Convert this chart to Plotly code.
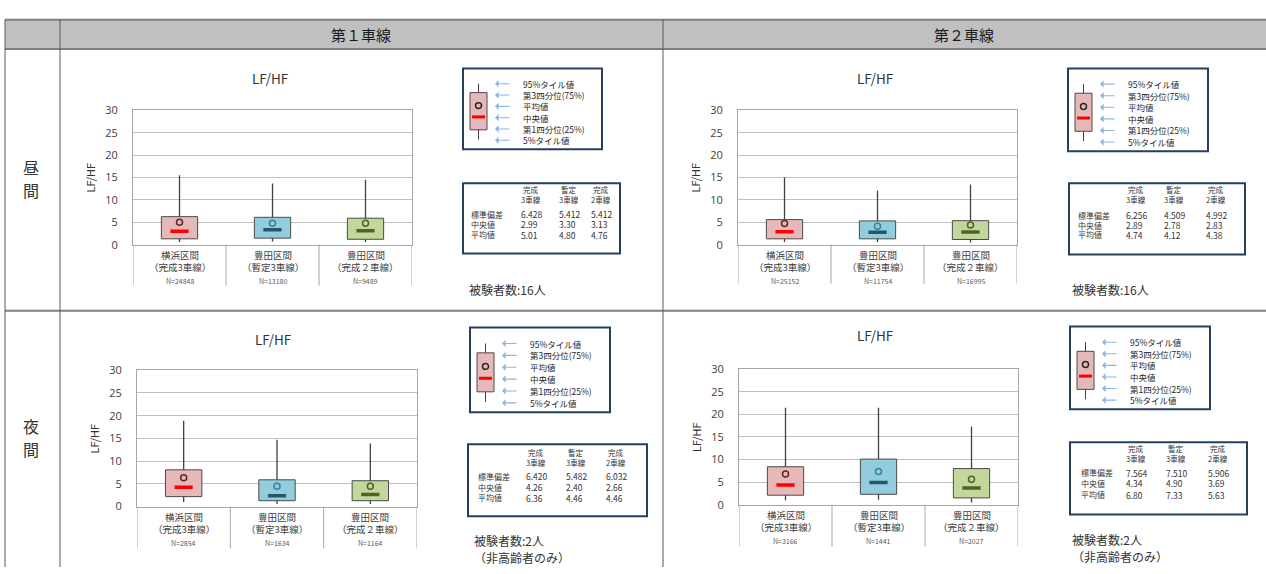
import plotly.graph_objects as go

W, H = 1266, 574

# ---- data ----------------------------------------------------------------
lane_titles = ["第１車線", "第２車線"]
period_titles = ["昼間", "夜間"]
categories = ["横浜区間", "豊田区間", "豊田区間"]
sections = ["（完成3車線）", "（暫定3車線）", "（完成２車線）"]
stat_cols = ["完成<br>3車線", "暫定<br>3車線", "完成<br>2車線"]
stat_rows = ["標準偏差", "中央値", "平均値"]
legend_labels = ["95%タイル値", "第3四分位(75%)", "平均値", "中央値", "第1四分位(25%)", "5%タイル値"]
chart_title = "LF/HF"
y_title = "LF/HF"
y_ticks = [0, 5, 10, 15, 20, 25, 30]

# day, lane 1
n_day_l1 = [24848, 13180, 9489]
p05_day_l1 = [0.6, 0.7, 0.6]
q1_day_l1 = [1.3, 1.45, 1.2]
median_day_l1 = [2.99, 3.30, 3.13]
mean_day_l1 = [5.01, 4.80, 4.76]
q3_day_l1 = [6.25, 6.1, 5.9]
p95_day_l1 = [15.5, 13.65, 14.5]
sd_day_l1 = [6.428, 5.412, 5.412]
subjects_day_l1 = ["被験者数:16人"]

# day, lane 2
n_day_l2 = [25152, 11754, 16995]
p05_day_l2 = [0.6, 0.6, 0.5]
q1_day_l2 = [1.3, 1.3, 1.15]
median_day_l2 = [2.89, 2.78, 2.83]
mean_day_l2 = [4.74, 4.12, 4.38]
q3_day_l2 = [5.6, 5.3, 5.35]
p95_day_l2 = [15.0, 12.1, 13.4]
sd_day_l2 = [6.256, 4.509, 4.992]
subjects_day_l2 = ["被験者数:16人"]

# night, lane 1
n_night_l1 = [2854, 1634, 1164]
p05_night_l1 = [1.0, 0.6, 0.6]
q1_night_l1 = [2.2, 1.3, 1.3]
median_night_l1 = [4.26, 2.40, 2.66]
mean_night_l1 = [6.36, 4.46, 4.46]
q3_night_l1 = [8.1, 5.9, 5.7]
p95_night_l1 = [18.9, 14.7, 13.9]
sd_night_l1 = [6.420, 5.482, 6.032]
subjects_night_l1 = ["被験者数:2人", "（非高齢者のみ）"]

# night, lane 2
n_night_l2 = [3166, 1441, 2027]
p05_night_l2 = [1.0, 1.1, 0.5]
q1_night_l2 = [2.1, 2.3, 1.5]
median_night_l2 = [4.34, 4.90, 3.69]
mean_night_l2 = [6.80, 7.33, 5.63]
q3_night_l2 = [8.4, 10.1, 8.0]
p95_night_l2 = [21.5, 21.5, 17.3]
sd_night_l2 = [7.564, 7.510, 5.906]
subjects_night_l2 = ["被験者数:2人", "（非高齢者のみ）"]

# ---- styling ----------------------------------------------------------------
FONT = "Noto Sans CJK JP"
box_fills = ["#e6b9b8", "#93cddd", "#c3d69b"]
median_colors = ["#ff0000", "#215968", "#4f6228"]
mean_colors = ["#632523", "#31859c", "#4f6228"]
BOX_LINE = "#4a4a4a"
GRID = "#c0c0c0"
FRAME = "#a6a6a6"
NAVY = "#243f60"
ARROW = "#8eb4e3"


def X(px):
    return px / W


def Y(py):
    return 1 - py / H


# pixel placement of each panel's pieces
panels = [
    dict(n=n_day_l1, p05=p05_day_l1, q1=q1_day_l1, med=median_day_l1, mean=mean_day_l1,
         q3=q3_day_l1, p95=p95_day_l1, sd=sd_day_l1, subjects=subjects_day_l1,
         plot=(133, 412, 105, 243), catbottom=285, title=(270, 72),
         legend=(463, 602, 62, 145), stats=(463, 620, 180, 252),
         cols=[520, 558, 590], rowx=470, heady=192, rowsy=[212, 222, 233], count=(468, 289)),
    dict(n=n_day_l2, p05=p05_day_l2, q1=q1_day_l2, med=median_day_l2, mean=mean_day_l2,
         q3=q3_day_l2, p95=p95_day_l2, sd=sd_day_l2, subjects=subjects_day_l2,
         plot=(738, 1017, 105, 243), catbottom=283, title=(875, 72),
         legend=(1068, 1208, 62, 147), stats=(1069, 1245, 180, 253),
         cols=[1125, 1163, 1205], rowx=1077, heady=192, rowsy=[213, 223, 233], count=(1071, 289)),
    dict(n=n_night_l1, p05=p05_night_l1, q1=q1_night_l1, med=median_night_l1, mean=mean_night_l1,
         q3=q3_night_l1, p95=p95_night_l1, sd=sd_night_l1, subjects=subjects_night_l1,
         plot=(137, 417, 372, 512), catbottom=555, title=(273, 340),
         legend=(470, 610, 328, 415), stats=(468, 647, 448, 522),
         cols=[525, 565, 605], rowx=477, heady=462, rowsy=[481, 492, 503], count=(473, 547)),
    dict(n=n_night_l2, p05=p05_night_l2, q1=q1_night_l2, med=median_night_l2, mean=mean_night_l2,
         q3=q3_night_l2, p95=p95_night_l2, sd=sd_night_l2, subjects=subjects_night_l2,
         plot=(739, 1018, 371, 510), catbottom=553, title=(875, 336),
         legend=(1070, 1210, 327, 412), stats=(1070, 1247, 446, 520),
         cols=[1125, 1165, 1207], rowx=1080, heady=457, rowsy=[477, 488, 500], count=(1071, 546)),
]

fig = go.Figure()
shapes = []
annotations = []
layout_axes = {}


def line(x0, y0, x1, y1, color, width=1, **kw):
    shapes.append(dict(type="line", xref=kw.get("xref", "paper"), yref="paper",
                       x0=x0, y0=y0, x1=x1, y1=y1, line=dict(color=color, width=width),
                       layer=kw.get("layer", "above")))


def text(x, y, s, size, color="#262626", xanchor="center", yanchor="middle", xref="paper", **kw):
    annotations.append(dict(x=x, y=y, xref=xref, yref="paper", text=s, showarrow=False,
                            xanchor=xanchor, yanchor=yanchor, borderpad=0,
                            font=dict(family=FONT, size=size, color=color), **kw))


# ---- table frame ---------------------------------------------------------------
shapes.append(dict(type="rect", xref="paper", yref="paper", x0=X(5), x1=X(1266), y0=Y(12), y1=Y(42),
                   fillcolor="#c0c0c0", line=dict(width=0), layer="below"))
for yy in (12, 42, 311):
    line(X(5), Y(yy), X(1266), Y(yy), "#7f7f7f", 2)
for xx in (5, 60, 663):
    line(X(xx), Y(12), X(xx), Y(574), "#595959", 1)
text(X(361), Y(27), lane_titles[0], 15, "#1a1a1a")
text(X(964), Y(27), lane_titles[1], 15, "#1a1a1a")
# row headings written vertically, one character per line
for cy, word in ((175, period_titles[0]), (441, period_titles[1])):
    for j, ch in enumerate(word):
        text(X(31), Y(cy - 12 + 24 * j), ch, 16, "#333333")

# ---- panels -------------------------------------------------------------------------
for i, p in enumerate(panels, start=1):
    xa, ya = f"x{i}", f"y{i}"
    xkey = "xaxis" if i == 1 else f"xaxis{i}"
    ykey = "yaxis" if i == 1 else f"yaxis{i}"
    l, r, t, b = p["plot"]
    layout_axes[xkey] = dict(domain=[X(l), X(r)], range=[-0.5, 2.5], anchor=ya,
                             showticklabels=False, showgrid=False, zeroline=False,
                             showline=True, mirror=True, linecolor=FRAME, linewidth=1,
                             fixedrange=True)
    layout_axes[ykey] = dict(domain=[Y(b), Y(t)], range=[0, 30], anchor=xa,
                             tickvals=y_ticks, showgrid=True, gridcolor=GRID, gridwidth=1,
                             zeroline=False, showline=True, mirror=True, linecolor=FRAME,
                             ticks="", ticklabelstandoff=12,
                             tickfont=dict(family="Open Sans", size=11, color="#404040"),
                             fixedrange=True)

    xs = [0, 1, 2]
    # box body from Q1 to Q3
    fig.add_trace(go.Bar(x=xs, y=[hi - lo for lo, hi in zip(p["q1"], p["q3"])], base=p["q1"],
                         width=0.39, marker=dict(color=box_fills, line=dict(color=BOX_LINE, width=1)),
                         xaxis=xa, yaxis=ya, showlegend=False, hoverinfo="skip"))
    # whiskers: 5% -> Q1 and Q3 -> 95%
    wx, wy = [], []
    for k in xs:
        wx += [k, k, None, k, k, None]
        wy += [p["p05"][k], p["q1"][k], None, p["q3"][k], p["p95"][k], None]
    fig.add_trace(go.Scatter(x=wx, y=wy, mode="lines", line=dict(color="#404040", width=1.3),
                             xaxis=xa, yaxis=ya, showlegend=False, hoverinfo="skip"))
    # median dash
    fig.add_trace(go.Scatter(x=xs, y=p["med"], mode="markers",
                             marker=dict(symbol="line-ew", size=13,
                                         line=dict(width=3.5, color=median_colors)),
                             xaxis=xa, yaxis=ya, showlegend=False, hoverinfo="skip"))
    # mean circle
    fig.add_trace(go.Scatter(x=xs, y=p["mean"], mode="markers",
                             marker=dict(symbol="circle-open", size=6, color=mean_colors,
                                         line=dict(width=1.5)),
                             xaxis=xa, yaxis=ya, showlegend=False, hoverinfo="skip"))

    # category dividers below the axis
    for k in (-0.5, 0.5, 1.5, 2.5):
        line(k, Y(b), k, Y(p["catbottom"]), FRAME, 1, xref=xa)
    for k in xs:
        text(k, Y(b + 11), categories[k], 9.5, "#404040", xref=xa)
        text(k, Y(b + 23), sections[k], 9.5, "#404040", xref=xa)
        text(k, Y(b + 37), f"N={p['n'][k]}", 7, "#595959", xref=xa)

    # titles
    tx, ty = p["title"]
    text(X(tx), Y(ty), chart_title, 13.5, "#333333")
    text(X(l - 43), Y((t + b) / 2), y_title, 11, "#333333", textangle=-90)

    # ---- box-plot key ----
    lx0, lx1, ly0, ly1 = p["legend"]
    h = ly1 - ly0
    shapes.append(dict(type="rect", xref="paper", yref="paper", x0=X(lx0), x1=X(lx1),
                       y0=Y(ly0), y1=Y(ly1), line=dict(color=NAVY, width=2), fillcolor="white"))
    gx = lx0 + 15.5
    line(X(gx), Y(ly0 + 0.19 * h), X(gx), Y(ly0 + 0.88 * h), "#404040", 1)
    shapes.append(dict(type="rect", xref="paper", yref="paper", x0=X(lx0 + 7), x1=X(lx0 + 24),
                       y0=Y(ly0 + 0.30 * h), y1=Y(ly0 + 0.76 * h),
                       line=dict(color=BOX_LINE, width=1), fillcolor=box_fills[0]))
    shapes.append(dict(type="circle", xref="paper", yref="paper", x0=X(gx - 3), x1=X(gx + 3),
                       y0=Y(ly0 + 0.46 * h - 3), y1=Y(ly0 + 0.46 * h + 3),
                       line=dict(color="#262626", width=1.5)))
    line(X(gx - 6.5), Y(ly0 + 0.60 * h), X(gx + 6.5), Y(ly0 + 0.60 * h), "#ff0000", 3)
    for j, lab in enumerate(legend_labels):
        yy = ly0 + (0.19 + j * 0.14) * h
        annotations.append(dict(x=X(lx0 + 32), y=Y(yy), xref="paper", yref="paper", text="",
                                showarrow=True, ax=16, ay=0, arrowhead=1, arrowsize=1.1,
                                arrowwidth=1.1, arrowcolor=ARROW))
        text(X(lx0 + 59), Y(yy), lab, 8.5, "#262626", xanchor="left")

    # ---- statistics table ----
    sx0, sx1, sy0, sy1 = p["stats"]
    shapes.append(dict(type="rect", xref="paper", yref="paper", x0=X(sx0), x1=X(sx1),
                       y0=Y(sy0), y1=Y(sy1), line=dict(color=NAVY, width=2), fillcolor="white"))
    for k in xs:
        text(X(p["cols"][k]), Y(p["heady"]), stat_cols[k], 7.5, "#333333", xanchor="left")
    rows = [[f"{v:.3f}" for v in p["sd"]], [f"{v:.2f}" for v in p["med"]],
            [f"{v:.2f}" for v in p["mean"]]]
    for j, rlab in enumerate(stat_rows):
        text(X(p["rowx"]), Y(p["rowsy"][j]), rlab, 8, "#333333", xanchor="left")
        for k in xs:
            text(X(p["cols"][k]), Y(p["rowsy"][j]), rows[j][k], 8.5, "#333333", xanchor="left")

    cx, cy = p["count"]
    for j, s in enumerate(p["subjects"]):
        text(X(cx), Y(cy + 17.5 * j), s, 12, "#333333", xanchor="left")

fig.update_layout(
    width=W, height=H, margin=dict(l=0, r=0, t=0, b=0),
    paper_bgcolor="white", plot_bgcolor="white",
    barmode="overlay", showlegend=False,
    shapes=shapes, annotations=annotations,
    **layout_axes,
)

fig.write_html("out.html")
